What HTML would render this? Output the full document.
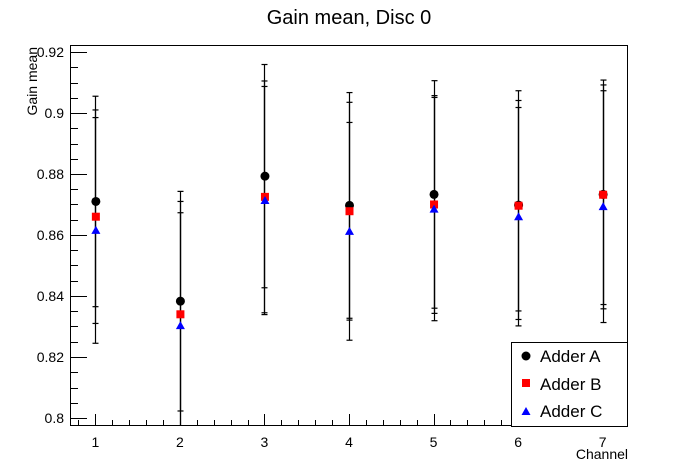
<!DOCTYPE html>
<html><head><meta charset="utf-8"><style>
body{margin:0;background:#fff;}
svg{display:block;font-family:"Liberation Sans",Arial,sans-serif;}
</style></head><body>
<svg id="chart" width="698" height="474">
<text x="349" y="24" text-anchor="middle" font-size="20">Gain mean, Disc 0</text>
<text transform="translate(37,47) rotate(-90)" text-anchor="end" font-size="14">Gain mean</text>
<text x="628" y="459" text-anchor="end" font-size="14">Channel</text>
<g id="axes"></g>
<g id="marks"></g>
<g>
<rect x="511.5" y="342.5" width="116" height="84" fill="#fff" stroke="#000"/>
<circle cx="526" cy="356" r="4.5" fill="#000"/>
<text x="540" y="362" font-size="17">Adder A</text>
<rect x="522" y="379" width="8" height="8" fill="#f00"/>
<text x="540" y="390" font-size="17">Adder B</text>
<polygon points="526,407 530.5,415 521.5,415" fill="#00f"/>
<text x="540" y="417" font-size="17">Adder C</text>
</g>
</svg>
<script>
const channels=[1,2,3,4,5,6,7];
const adderA=[0.871,0.8383,0.8793,0.8697,0.8733,0.8698,0.8733];
const adderB=[0.866,0.834,0.8725,0.8678,0.870,0.8696,0.8732];
const adderC=[0.8615,0.8303,0.8713,0.8612,0.8685,0.866,0.8693];
const errA=[0.0345,0.036,0.0366,0.037,0.0373,0.0375,0.0375];
const errB=[0.035,0.037,0.038,0.0357,0.0357,0.0345,0.036];
const errC=[0.037,0.037,0.0374,0.0357,0.0366,0.0358,0.038];
const yTicks=["0.8","0.82","0.84","0.86","0.88","0.9","0.92"];
const yTickVals=[0.80,0.82,0.84,0.86,0.88,0.90,0.92];

const L=70,R=628,T=45,B=426;
const xMin=0.7,xMax=7.3,yMin=0.7975,yMax=0.9230;
function xs(v){return L+(v-xMin)/(xMax-xMin)*(R-L);}
function ys(v){return 418-(v-0.8)*3050;}
const NS="http://www.w3.org/2000/svg";
function mk(tag,attrs,parent){const e=document.createElementNS(NS,tag);for(const k in attrs)e.setAttribute(k,attrs[k]);parent.appendChild(e);return e;}
const axes=document.getElementById('axes'),marks=document.getElementById('marks');
const frame=mk('rect',{x:L+0.5,y:T+0.5,width:R-L-1,height:B-T-1,fill:'none',stroke:'#000'},axes);


// x ticks
for(let i=4;i<=36;i++){const v=i*0.2;if(v<xMin||v>xMax)continue;const x=Math.round(xs(v))+0.5;const major=Math.abs(v-Math.round(v))<1e-6;
 const t=mk('line',{x1:x,x2:x,y1:B,y2:B-(major?12:6),stroke:'#000'},axes);
 
 }
channels.forEach(c=>{const t=mk('text',{x:xs(c),y:447,'text-anchor':'middle','font-size':14},axes);t.textContent=c;
 
 });
// y ticks
for(let i=0;i<=24;i++){const v=0.8+i*0.005;const y=Math.round(ys(v))+0.5;if(y<T||y>B)continue;const major=i%4===0;
 const t=mk('line',{x1:L,x2:L+(major?17:8),y1:y,y2:y,stroke:'#000'},axes);
 
 }
{const y=Math.round(ys(0.7975))+0.5;}
yTickVals.forEach((v,i)=>{const t=mk('text',{x:64,y:ys(v)+5,'text-anchor':'end','font-size':14},axes);t.textContent=yTicks[i];
 
 });
// series
const clip=mk('clipPath',{id:'pc'},marks);mk('rect',{x:L,y:T,width:R-L,height:B-T},clip);
const g=mk('g',{'clip-path':'url(#pc)'},marks);
function errbars(vals,errs,name){vals.forEach((v,i)=>{const x=Math.round(xs(channels[i]))+0.5;const y1=ys(v+errs[i]),y2=ys(v-errs[i]);
 const l=mk('line',{x1:x,x2:x,y1:y1,y2:y2,stroke:'#000','stroke-width':1.2},g);
 
 
 [y1,y2].forEach(yy=>{const c=mk('line',{x1:x-3,x2:x+3,y1:yy,y2:yy,stroke:'#000','stroke-width':1.2},g);
 
 });});}
errbars(adderA,errA,'adder-a');errbars(adderB,errB,'adder-b');errbars(adderC,errC,'adder-c');
adderA.forEach((v,i)=>{const p=mk('circle',{cx:xs(channels[i])+0.5,cy:ys(v),r:4.5,fill:'#000'},g);
 
 });
adderB.forEach((v,i)=>{const p=mk('rect',{x:xs(channels[i])-3.5,y:ys(v)-4,width:8,height:8,fill:'#f00'},g);
 
 });
adderC.forEach((v,i)=>{const x=xs(channels[i])+0.5,y=ys(v);const p=mk('polygon',{points:`${x},${y-4.5} ${x+4.5},${y+3.5} ${x-4.5},${y+3.5}`,fill:'#00f'},g);
 
 });
</script>
</body></html>
